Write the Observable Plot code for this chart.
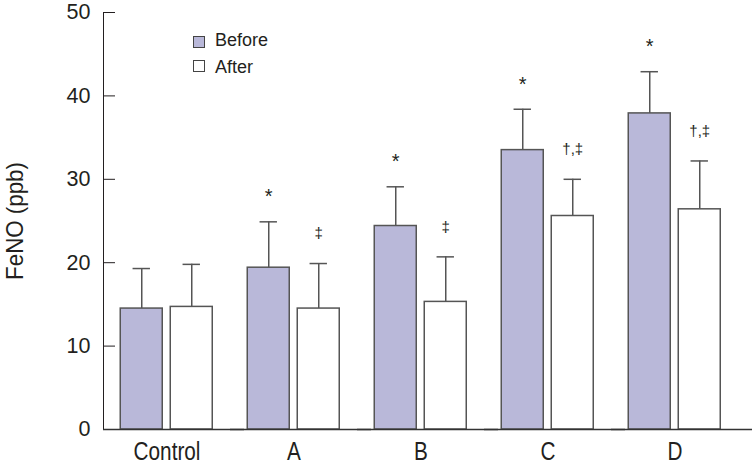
<!DOCTYPE html>
<html><head><meta charset="utf-8">
<script src="https://cdn.jsdelivr.net/npm/d3@7"></script>
<script src="https://cdn.jsdelivr.net/npm/@observablehq/plot@0.6"></script>
<style>
body{margin:0;background:#fff;}
#chart{position:relative;width:755px;height:463px;overflow:hidden;}
#chart svg{position:absolute;left:0;top:0;}
g[aria-label="y-axis tick label"]{font-size:21.5px;}
g[aria-label="fx-axis tick label"]{font-size:25px;}
g[aria-label="y-axis label"]{font-size:24px;}
.leg{position:absolute;font-family:"Liberation Sans",Arial,sans-serif;color:#231f20;}
.sq{position:absolute;width:10px;height:10px;border:1px solid #444;}
.lt{position:absolute;font-size:18px;line-height:18px;white-space:nowrap;}
</style></head><body><div id="chart"></div>
<script>
const groups = ["Control", "A", "B", "C", "D"];
const series = ["Before", "After"];
const beforeMean = [14.5, 19.4, 24.4, 33.5, 37.9];
const beforeSD   = [4.8, 5.5, 4.7, 4.9, 5.0];
const afterMean  = [14.7, 14.5, 15.3, 25.6, 26.4];
const afterSD    = [5.1, 5.4, 5.4, 4.4, 5.8];
const beforeNotes = ["", "*", "*", "*", "*"];
const afterNotes  = ["", "‡", "‡", "†,‡", "†,‡"];
const yTicks = [0, 10, 20, 30, 40, 50];
const seriesColors = ["#b9b8d9", "#ffffff"];

const rows = groups.flatMap((g, i) => [
  {group: g, series: series[0], mean: beforeMean[i], sd: beforeSD[i], note: beforeNotes[i]},
  {group: g, series: series[1], mean: afterMean[i], sd: afterSD[i], note: afterNotes[i]}
]);
const errTop = d => d.mean + d.sd;
const ink = "#231f20";
const barStroke = "#555";

const plot = Plot.plot({
  width: 755,
  height: 463,
  marginTop: 12,
  marginBottom: 34,
  marginLeft: 101.75,
  marginRight: 15.75,
  style: {fontFamily: '"Liberation Sans",Arial,sans-serif', color: ink, background: "#fff", overflow: "visible"},
  fx: {domain: groups, padding: 0, axis: "bottom", label: null, tickSize: 0, tickPadding: 13},
  x: {domain: series, paddingInner: 0.166, paddingOuter: 0.33, axis: null},
  y: {domain: [0, 50], ticks: yTicks, tickSize: -12, tickPadding: 25, line: true,
      label: "FeNO (ppb)", labelAnchor: "center", labelOffset: 98, labelArrow: false},
  color: {domain: series, range: seriesColors},
  marks: [
    Plot.ruleX(rows, {fx: "group", x: "series", y1: "mean", y2: errTop, stroke: barStroke, strokeWidth: 1.5}),
    Plot.tickY(rows, {fx: "group", x: "series", y: errTop, insetLeft: 12.3, insetRight: 12.3, stroke: barStroke, strokeWidth: 1.5}),
    Plot.barY(rows, {fx: "group", x: "series", y: "mean", fill: "series", stroke: barStroke, strokeWidth: 1.5}),
    Plot.text(rows.filter(d => d.series === series[0]), {fx: "group", x: "series", y: errTop, text: "note", dy: -25, fontSize: 20, fill: ink}),
    Plot.text(rows.filter(d => d.series === series[1]), {fx: "group", x: "series", y: errTop, text: "note", dy: -30, fontSize: 15, fill: ink}),
    Plot.ruleY([0], {insetRight: -14, stroke: "#333", strokeWidth: 1.5})
  ]
});
const chart = document.getElementById("chart");
chart.appendChild(plot);

// condensed lettering, as in the original (real text, glyphs narrowed)
function narrow(selector, factor) {
  d3.select(plot).selectAll(selector).each(function() {
    const w = this.getComputedTextLength();
    this.setAttribute("textLength", w * factor);
    this.setAttribute("lengthAdjust", "spacingAndGlyphs");
  });
}
narrow('g[aria-label="fx-axis tick label"] text', 0.83);
narrow('g[aria-label="y-axis label"] text', 0.93);

// legend (HTML, like Plot's own legends)
series.forEach((s, i) => {
  const sq = document.createElement("div");
  sq.className = "leg sq";
  sq.style.left = "193px";
  sq.style.top = (35.5 + 24.5 * i) + "px";
  sq.style.background = seriesColors[i];
  chart.appendChild(sq);
  const t = document.createElement("div");
  t.className = "leg lt";
  t.style.left = "215px";
  t.style.top = (31 + 27 * i) + "px";
  t.textContent = s;
  chart.appendChild(t);
});
</script>
</body></html>
